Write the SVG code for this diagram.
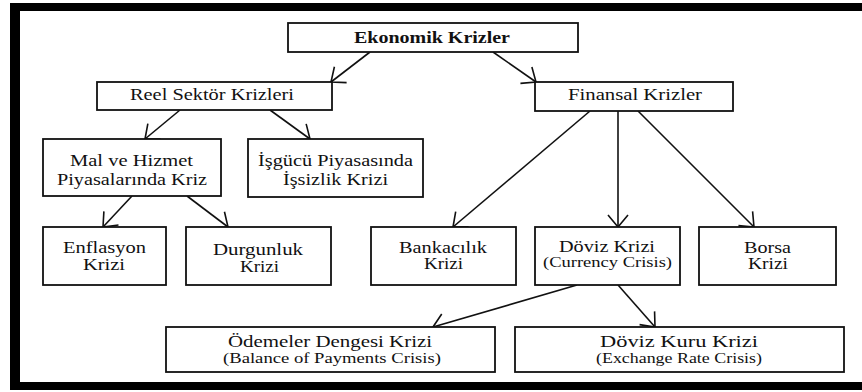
<svg xmlns="http://www.w3.org/2000/svg" width="862" height="392" viewBox="0 0 862 392">
<style>
.box{fill:#fff;stroke:#111;stroke-width:1.8}
.t{font-family:"Liberation Serif","DejaVu Serif","Noto Serif",serif;font-size:16px;fill:#111;text-anchor:middle}
.s{font-family:"Liberation Serif","DejaVu Serif","Noto Serif",serif;font-size:14px;fill:#111;text-anchor:middle}
.b{font-weight:bold}
.c{stroke:#111;stroke-width:1.6;fill:none;marker-end:url(#a)}
</style>
<defs>
<marker id="a" markerUnits="userSpaceOnUse" viewBox="0 0 14 22" refX="13" refY="11" markerWidth="14" markerHeight="22" orient="auto">
<path d="M1,1 L13,11 L1,21" fill="none" stroke="#111" stroke-width="1.6"/>
</marker>
</defs>
<rect width="862" height="392" fill="#fff"/>
<g id="frame" fill="#000">
<rect x="10" y="3" width="852" height="8"/>
<rect x="10" y="3" width="10" height="387"/>
<rect x="10" y="382" width="852" height="8"/>
</g>
<g id="connectors">
<line class="c" x1="370" y1="52" x2="331" y2="82"/>
<line class="c" x1="493" y1="52" x2="536" y2="82"/>
<line class="c" x1="180" y1="110" x2="145" y2="139"/>
<line class="c" x1="270" y1="110" x2="310" y2="139"/>
<line class="c" x1="132" y1="196" x2="103" y2="227"/>
<line class="c" x1="187" y1="196" x2="228" y2="227"/>
<line class="c" x1="590" y1="111" x2="453" y2="227"/>
<line class="c" x1="618" y1="111" x2="618" y2="227"/>
<line class="c" x1="638" y1="111" x2="754" y2="227"/>
<line class="c" x1="577" y1="285" x2="433" y2="327"/>
<line class="c" x1="618" y1="285" x2="655" y2="327"/>
</g>
<g id="ekonomik"><rect class="box" x="288" y="23" width="290" height="29"/><text class="t b" x="432" y="43" textLength="156" lengthAdjust="spacingAndGlyphs">Ekonomik Krizler</text></g>
<g id="reel"><rect class="box" x="97" y="82" width="235" height="28"/><text class="t" x="212" y="100" textLength="164" lengthAdjust="spacingAndGlyphs">Reel Sektör Krizleri</text></g>
<g id="finansal"><rect class="box" x="535" y="82" width="198" height="29"/><text class="t" x="635" y="100" textLength="134" lengthAdjust="spacingAndGlyphs">Finansal Krizler</text></g>
<g id="mal"><rect class="box" x="43" y="139" width="178" height="57"/><text class="t" x="131.5" y="166" textLength="123" lengthAdjust="spacingAndGlyphs">Mal ve Hizmet</text><text class="t" x="132" y="185" textLength="150" lengthAdjust="spacingAndGlyphs">Piyasalarında Kriz</text></g>
<g id="isgucu"><rect class="box" x="248" y="139" width="175" height="58"/><text class="t" x="335.5" y="166" textLength="155" lengthAdjust="spacingAndGlyphs">İşgücü Piyasasında</text><text class="t" x="335.5" y="185" textLength="105" lengthAdjust="spacingAndGlyphs">İşsizlik Krizi</text></g>
<g id="enflasyon"><rect class="box" x="43" y="227" width="123" height="58"/><text class="t" x="104.5" y="253" textLength="83" lengthAdjust="spacingAndGlyphs">Enflasyon</text><text class="t" x="104" y="270" textLength="42" lengthAdjust="spacingAndGlyphs">Krizi</text></g>
<g id="durgunluk"><rect class="box" x="186" y="227" width="145" height="58"/><text class="t" x="258" y="255" textLength="90" lengthAdjust="spacingAndGlyphs">Durgunluk</text><text class="t" x="259.5" y="272" textLength="39" lengthAdjust="spacingAndGlyphs">Krizi</text></g>
<g id="bankacilik"><rect class="box" x="371" y="227" width="145" height="58"/><text class="t" x="443" y="253" textLength="88" lengthAdjust="spacingAndGlyphs">Bankacılık</text><text class="t" x="443.5" y="269" textLength="39" lengthAdjust="spacingAndGlyphs">Krizi</text></g>
<g id="doviz"><rect class="box" x="535" y="227" width="145" height="58"/><text class="t" x="607" y="252" textLength="96" lengthAdjust="spacingAndGlyphs">Döviz Krizi</text><text class="s" x="607.5" y="267" textLength="129" lengthAdjust="spacingAndGlyphs">(Currency Crisis)</text></g>
<g id="borsa"><rect class="box" x="699" y="227" width="137" height="58"/><text class="t" x="767.5" y="253" textLength="47" lengthAdjust="spacingAndGlyphs">Borsa</text><text class="t" x="768" y="269" textLength="40" lengthAdjust="spacingAndGlyphs">Krizi</text></g>
<g id="odemeler"><rect class="box" x="166" y="327" width="329" height="45"/><text class="t" x="330" y="347" textLength="204" lengthAdjust="spacingAndGlyphs">Ödemeler Dengesi Krizi</text><text class="s" x="332" y="363" textLength="218" lengthAdjust="spacingAndGlyphs">(Balance of Payments Crisis)</text></g>
<g id="dovizkuru"><rect class="box" x="515" y="327" width="329" height="45"/><text class="t" x="679" y="347" textLength="158" lengthAdjust="spacingAndGlyphs">Döviz Kuru Krizi</text><text class="s" x="679" y="363" textLength="166" lengthAdjust="spacingAndGlyphs">(Exchange Rate Crisis)</text></g>
</svg>
